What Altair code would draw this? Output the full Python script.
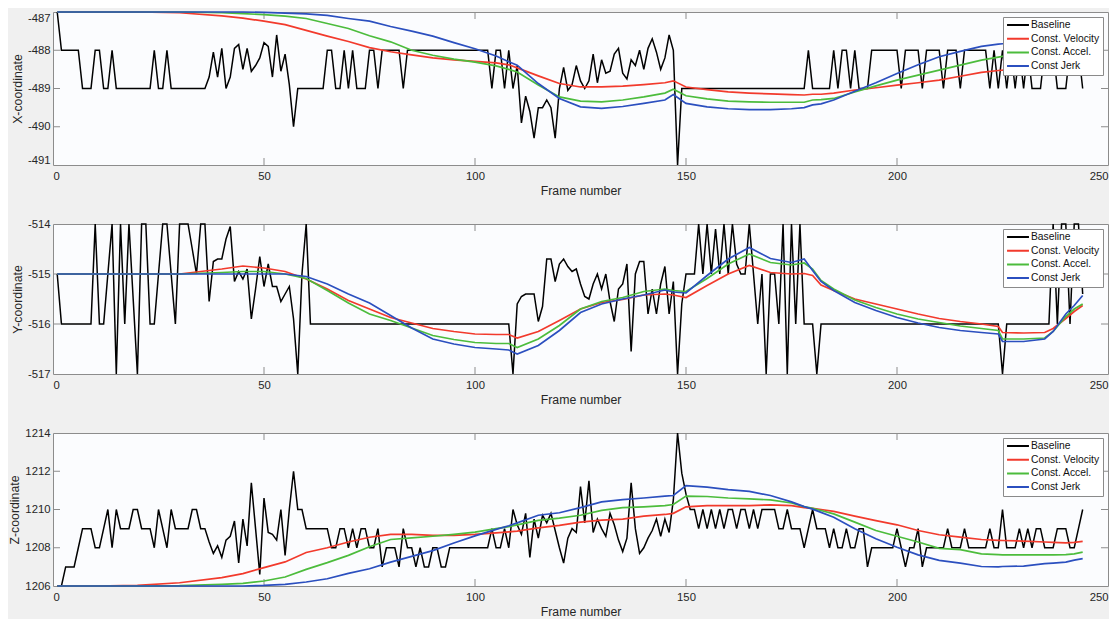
import altair as alt
import pandas as pd

SERIES = ["Baseline", "Const. Velocity", "Const. Accel.", "Const Jerk"]
COLORS = ["#000000", "#f23a2c", "#4cbc3c", "#2b4fbf"]
X_TICKS = [0, 50, 100, 150, 200, 250]
X_INNER_TICKS = [50, 100, 150, 200]

# Baseline, one value per frame (frames 1..244)
X_BASE = [
    -487, -488, -488, -488, -488, -488, -489, -489, -489, -488,
    -488, -489, -489, -488, -489, -489, -489, -489, -489, -489,
    -489, -489, -489, -488, -489, -489, -488, -489, -489, -489,
    -489, -489, -489, -489, -489, -489, -488.7, -488.05, -488.7, -487.95,
    -489, -488.7, -487.95, -487.85, -488.5, -487.95, -488.55, -488.4, -488.2, -487.8,
    -487.9, -488.7, -487.6, -488.55, -488.1, -488.9, -490, -489, -489, -489,
    -489, -489, -489, -489, -488, -488, -489, -489, -488, -489,
    -488, -489, -489, -489, -488, -488, -489, -488, -488, -488,
    -488, -488, -489, -488, -488, -488, -488, -488, -488, -488,
    -488, -488, -488, -488, -488, -488, -488, -488, -488, -488,
    -488, -488, -488, -489, -488, -488, -489, -488, -489, -488.4,
    -489.9, -489.2, -489.6, -490.3, -489.5, -489.5, -489.3, -489.5, -490.3, -489.0,
    -488.45, -489.05, -488.9, -488.4, -488.8, -489.0, -488.8, -488.1, -488.85, -488.25,
    -488.6, -488.55, -488.1, -487.95, -488.6, -488.75, -488.25, -488.4, -488.0, -488.5,
    -487.95, -487.7, -488.05, -488.5, -488.2, -487.6, -488.0, -491, -489, -489,
    -489, -489, -489, -489, -489, -489, -489, -489, -489, -489,
    -489, -489, -489, -489, -489, -489, -489, -489, -489, -489,
    -489, -489, -489, -489, -489, -489, -489, -489, -488, -489,
    -489, -489, -489, -489, -488, -489, -488, -488, -489, -488,
    -489, -489, -489, -488, -488, -488, -488, -488, -488, -488,
    -489, -488, -488, -488, -488, -489, -488, -488, -488, -488,
    -489, -488, -488, -488, -489, -488, -488, -488, -488, -488,
    -488, -489, -488, -489, -488, -489, -488, -489, -488, -489,
    -488, -489, -489, -489, -488, -488, -488, -489, -489, -489,
    -488, -488, -488, -489,
]

Y_BASE = [
    -515, -516, -516, -516, -516, -516, -516, -516, -516, -514,
    -516, -516, -515, -514, -517, -514, -516, -514, -515.5, -517,
    -514, -514, -516, -516, -515, -514, -514, -515, -516, -514,
    -514, -514, -514.5, -515, -514, -514, -515.55, -514.75, -514.7, -514.7,
    -514.3, -514.05, -515.15, -514.95, -515.1, -514.9, -515.9, -515.3, -514.65, -515.25,
    -514.8, -515.25, -515.25, -515.55, -515.4, -515.25, -515.9, -517, -515, -514,
    -516, -516, -516, -516, -516, -516, -516, -516, -516, -516,
    -516, -516, -516, -516, -516, -516, -516, -516, -516, -516,
    -516, -516, -516, -516, -516, -516, -516, -516, -516, -516,
    -516, -516, -516, -516, -516, -516, -516, -516, -516, -516,
    -516, -516, -516, -516, -516, -516, -516, -516, -517, -515.6,
    -515.45, -515.4, -515.4, -515.4, -515.95, -515.65, -514.7, -514.7, -515.15, -514.8,
    -514.7, -514.85, -514.95, -514.9, -515.2, -515.45, -515.5, -515.2, -515.0, -515.3,
    -515.0, -515.55, -515.95, -515.3, -515.2, -514.8, -516.55, -515.0, -514.75, -514.75,
    -515.8, -515.3, -515.8, -515.2, -514.85, -515.8, -515.15, -517, -515.6, -515.0,
    -515.0, -515.0, -514, -515, -514, -515, -514.1, -515, -514, -515,
    -514, -514.8, -515, -515, -514, -515, -516, -515, -517, -515,
    -515, -516, -514, -517, -514, -516, -514, -516, -516, -516,
    -517, -516, -516, -516, -516, -516, -516, -516, -516, -516,
    -516, -516, -516, -516, -516, -516, -516, -516, -516, -516,
    -516, -516, -516, -516, -516, -516, -516, -516, -516, -516,
    -516, -516, -516, -516, -516, -516, -516, -516, -516, -516,
    -516, -516, -516, -516, -517, -516, -516, -516, -516, -516,
    -516, -516, -516, -516, -516, -516, -514, -516, -514, -514,
    -516, -514, -514, -515.4,
]

Z_BASE = [
    1206, 1206, 1207, 1207, 1207, 1208, 1209, 1209, 1209, 1208,
    1208, 1209, 1210, 1208, 1210, 1209, 1209, 1209, 1210, 1210,
    1209, 1209, 1209, 1208, 1210, 1209, 1208, 1210, 1209, 1209,
    1209, 1209, 1210, 1210, 1209, 1209, 1208.3, 1207.7, 1208.1, 1207.5,
    1208.4, 1208.6, 1209.4, 1207.2, 1209.5, 1208.1, 1211.4, 1209.0, 1206.6, 1210.6,
    1208.8, 1208.7, 1208.4, 1210.0, 1207.6, 1210.0, 1212.0, 1210, 1210, 1209,
    1209, 1209, 1209, 1209, 1209, 1208, 1208, 1209, 1209, 1208,
    1209, 1208, 1209, 1209, 1208, 1208, 1209, 1207, 1208, 1208,
    1208, 1207, 1209, 1208, 1208, 1207, 1208, 1207, 1207, 1208,
    1208, 1207, 1207, 1208, 1208, 1208, 1208, 1208, 1208, 1208,
    1208, 1208, 1208, 1209, 1208, 1208, 1209, 1208, 1210, 1209.2,
    1208.7, 1209.8, 1207.5, 1209.5, 1208.5, 1209.7, 1209.3, 1209.8, 1208.9, 1208.0,
    1207.2, 1208.5, 1209.0, 1208.8, 1211.2, 1209.3, 1211.5, 1208.8, 1209.5, 1209.0,
    1208.6, 1209.8, 1209.2, 1208.4, 1207.8, 1208.5, 1211.4, 1209.0, 1207.7, 1208.0,
    1208.5, 1208.9, 1209.5, 1208.6, 1209.5, 1208.8, 1210.5, 1214, 1211.9, 1210.8,
    1210, 1210, 1209, 1210, 1209, 1210, 1209, 1210, 1209, 1210,
    1210, 1209, 1210, 1210, 1209, 1210, 1209, 1210, 1210, 1210,
    1210, 1209, 1209, 1210, 1209, 1209, 1209, 1208, 1209, 1210,
    1209, 1209, 1209, 1208, 1209, 1208, 1208, 1209, 1208, 1208,
    1209, 1209, 1207, 1208, 1208, 1208, 1208, 1208, 1208, 1209,
    1208, 1207, 1208, 1208, 1209, 1207, 1208, 1208, 1208, 1208,
    1208, 1209, 1208, 1208, 1208, 1209, 1208, 1208, 1208, 1208,
    1208, 1209, 1208, 1208, 1210, 1208, 1208, 1208, 1209, 1208,
    1209, 1208, 1209, 1209, 1208, 1208, 1208, 1209, 1209, 1209,
    1208, 1208, 1209, 1210,
]

# Filtered tracks, read at these frames
SAMPLE_FRAMES = [1, 10, 20, 30, 40, 45, 50, 55, 60, 65, 70, 75, 80, 85, 90,
                 95, 100, 105, 108, 110, 115, 120, 125, 130, 135, 140, 145, 147,
                 150, 155, 160, 165, 170, 175, 178, 180, 182, 185, 190, 195, 200,
                 205, 210, 215, 220, 224, 225, 230, 235, 237, 240, 242, 244]

X_CV = [-487.0, -487.0, -487.0, -487.02, -487.1, -487.16, -487.24, -487.33, -487.48, -487.63,
        -487.77, -487.93, -488.04, -488.12, -488.2, -488.25, -488.29, -488.33, -488.38, -488.46,
        -488.67, -488.87, -488.96, -488.96, -488.94, -488.9, -488.85, -488.8, -488.96, -489.03,
        -489.09, -489.12, -489.14, -489.16, -489.17, -489.15, -489.15, -489.12, -489.04, -488.98,
        -488.91, -488.85, -488.78, -488.68, -488.58, -488.53, -488.52, -488.45, -488.38, -488.36,
        -488.33, -488.31, -488.3]
X_CA = [-487.0, -487.0, -487.0, -487.0, -487.02, -487.04, -487.07, -487.11, -487.17, -487.3,
        -487.43, -487.62, -487.78, -488.0, -488.13, -488.23, -488.31, -488.41, -488.5, -488.57,
        -488.91, -489.22, -489.33, -489.35, -489.3, -489.22, -489.12, -489.02, -489.19, -489.27,
        -489.33, -489.35, -489.36, -489.36, -489.36, -489.3, -489.29, -489.26, -489.09, -488.93,
        -488.78, -488.65, -488.52, -488.39, -488.26, -488.18, -488.16, -488.1, -488.06, -488.05,
        -488.03, -488.02, -488.0]
X_CJ = [-487.0, -487.0, -487.0, -487.0, -487.0, -487.0, -487.01, -487.03, -487.05, -487.09,
        -487.17, -487.24, -487.38, -487.5, -487.63, -487.8, -487.96, -488.15, -488.3, -488.39,
        -488.87, -489.26, -489.48, -489.52, -489.47, -489.39, -489.3, -489.16, -489.39, -489.48,
        -489.53, -489.55, -489.55, -489.53, -489.5, -489.43, -489.4, -489.3, -489.07, -488.85,
        -488.61, -488.38, -488.17, -488.03, -487.9, -487.84, -487.83, -487.82, -487.81, -487.8,
        -487.8, -487.8, -487.8]

Y_CV = [-515.0, -515.0, -515.0, -515.0, -514.9, -514.84, -514.88, -514.95, -515.1, -515.3,
        -515.53, -515.7, -515.87, -515.98, -516.09, -516.15, -516.2, -516.21, -516.21, -516.28,
        -516.15, -515.93, -515.7, -515.57, -515.51, -515.42, -515.4, -515.42, -515.47, -515.23,
        -515.0, -514.83, -514.97, -515.0, -514.99, -515.03, -515.22, -515.33, -515.5, -515.6,
        -515.7, -515.8, -515.89, -515.95, -516.0, -516.05, -516.17, -516.18, -516.17, -516.09,
        -515.89, -515.75, -515.63]
Y_CA = [-515.0, -515.0, -515.0, -515.0, -514.97, -514.95, -514.95, -515.0, -515.09, -515.33,
        -515.58, -515.8, -515.93, -516.08, -516.23, -516.31, -516.37, -516.39, -516.39, -516.47,
        -516.3, -516.03, -515.7, -515.55, -515.47, -515.35, -515.3, -515.33, -515.35, -515.09,
        -514.8, -514.6, -514.77, -514.82, -514.78, -514.9, -515.13, -515.3, -515.52, -515.67,
        -515.8, -515.9, -515.97, -516.04, -516.09, -516.13, -516.3, -516.3, -516.28, -516.15,
        -515.85, -515.7, -515.6]
Y_CJ = [-515.0, -515.0, -515.0, -515.0, -515.0, -515.0, -515.0, -515.0, -515.05, -515.2,
        -515.4, -515.58, -515.83, -516.08, -516.3, -516.4, -516.47, -516.5, -516.52, -516.6,
        -516.43, -516.13, -515.77, -515.6, -515.5, -515.42, -515.32, -515.36, -515.38, -515.03,
        -514.7, -514.47, -514.69, -514.77, -514.7, -514.93, -515.15, -515.33, -515.57, -515.73,
        -515.87, -515.98, -516.07, -516.13, -516.17, -516.2, -516.35, -516.35, -516.3, -516.15,
        -515.8, -515.63, -515.43]

Z_CV = [1206.0, 1206.0, 1206.03, 1206.17, 1206.44, 1206.65, 1206.96, 1207.26, 1207.75, 1208.0,
        1208.3, 1208.55, 1208.7, 1208.7, 1208.65, 1208.65, 1208.7, 1208.78, 1208.83, 1208.87,
        1209.04, 1209.17, 1209.34, 1209.44, 1209.5, 1209.65, 1209.74, 1209.8, 1210.14, 1210.2,
        1210.2, 1210.2, 1210.24, 1210.2, 1210.1, 1210.06, 1210.0, 1209.9, 1209.65, 1209.42,
        1209.2, 1208.9, 1208.68, 1208.56, 1208.43, 1208.39, 1208.38, 1208.35, 1208.3, 1208.28,
        1208.26, 1208.28, 1208.33]
Z_CA = [1206.0, 1206.0, 1206.0, 1206.02, 1206.09, 1206.14, 1206.26, 1206.47, 1206.87, 1207.22,
        1207.6, 1208.05, 1208.43, 1208.52, 1208.6, 1208.7, 1208.82, 1209.0, 1209.1, 1209.2,
        1209.43, 1209.55, 1209.7, 1209.95, 1210.1, 1210.14, 1210.2, 1210.26, 1210.7, 1210.68,
        1210.6, 1210.56, 1210.5, 1210.34, 1210.15, 1210.06, 1209.95, 1209.77, 1209.34, 1208.9,
        1208.6, 1208.3, 1207.97, 1207.9, 1207.68, 1207.64, 1207.63, 1207.63, 1207.63, 1207.63,
        1207.64, 1207.68, 1207.77]
Z_CJ = [1206.0, 1206.0, 1206.0, 1206.0, 1206.0, 1206.0, 1206.03, 1206.09, 1206.21, 1206.38,
        1206.66, 1206.9, 1207.25, 1207.55, 1207.85, 1208.25, 1208.62, 1208.96, 1209.15, 1209.3,
        1209.7, 1209.83, 1210.1, 1210.4, 1210.52, 1210.6, 1210.7, 1210.73, 1211.25, 1211.17,
        1211.04, 1210.95, 1210.73, 1210.4, 1210.15, 1210.02, 1209.85, 1209.6, 1208.99, 1208.47,
        1208.03, 1207.63, 1207.34, 1207.2, 1207.02, 1207.0, 1207.02, 1207.04, 1207.17, 1207.2,
        1207.25, 1207.35, 1207.43]

FONT = "Liberation Sans"
W = 1055


def panel(base, cv, ca, cj, y_domain, y_ticks, y_inner, y_title, h, flush_y=False):
    base_df = pd.DataFrame({"frame": list(range(1, len(base) + 1)),
                            "value": base, "series": "Baseline"})
    parts = []
    for name, vals in zip(SERIES[1:], [cv, ca, cj]):
        parts.append(pd.DataFrame({"frame": SAMPLE_FRAMES, "value": vals,
                                   "series": name}))
    smooth_df = pd.concat(parts, ignore_index=True)

    x_enc = alt.X("frame:Q", scale=alt.Scale(domain=[0, 250], nice=False),
                  axis=alt.Axis(values=X_TICKS, title="Frame number", ticks=False,
                                domain=False, grid=False, labelPadding=5,
                                titlePadding=3, labelFlush=True))
    y_enc = alt.Y("value:Q", scale=alt.Scale(domain=y_domain, nice=False, zero=False),
                  axis=alt.Axis(values=y_ticks, title=y_title, ticks=False,
                                domain=False, grid=False, labelPadding=3,
                                titlePadding=3, labelFlush=flush_y,
                                labelExpr="datum.value + ''"))
    color = alt.Color("series:N",
                      scale=alt.Scale(domain=SERIES, range=COLORS),
                      legend=alt.Legend(title=None, orient="top-right", offset=5,
                                        fillColor="white", strokeColor="#8a8a8a",
                                        padding=3, symbolType="stroke",
                                        symbolSize=480, symbolStrokeWidth=2,
                                        clipHeight=10,
                                        labelFont=FONT, labelFontSize=10.3,
                                        labelColor="#111", rowPadding=2.7,
                                        labelOffset=1, labelLimit=200))

    black = alt.Chart(base_df).mark_line(strokeWidth=1.5).encode(
        x=x_enc, y=y_enc, color=color, order="frame:Q")
    smooth = alt.Chart(smooth_df).mark_line(strokeWidth=1.7).encode(
        x=x_enc, y=y_enc, color=color, order="frame:Q")

    xt = pd.DataFrame({"frame": X_INNER_TICKS})
    yt = pd.DataFrame({"value": y_inner})
    tick_col = "#8c8c8c"
    top_ticks = alt.Chart(xt).mark_rule(color=tick_col).encode(
        x=x_enc, y=alt.value(0), y2=alt.value(7))
    bot_ticks = alt.Chart(xt).mark_rule(color=tick_col).encode(
        x=x_enc, y=alt.value(h - 7), y2=alt.value(h))
    left_ticks = alt.Chart(yt).mark_rule(color=tick_col).encode(
        y=y_enc, x=alt.value(0), x2=alt.value(7))
    right_ticks = alt.Chart(yt).mark_rule(color=tick_col).encode(
        y=y_enc, x=alt.value(W - 7), x2=alt.value(W))

    return alt.layer(top_ticks, bot_ticks, left_ticks, right_ticks, black, smooth).properties(
        width=W, height=h)


p1 = panel(X_BASE, X_CV, X_CA, X_CJ, [-491, -487], [-491, -490, -489, -488, -487],
           [-490, -489, -488], "X-coordinate", 153, flush_y=True)
p2 = panel(Y_BASE, Y_CV, Y_CA, Y_CJ, [-517, -514], [-517, -516, -515, -514],
           [-516, -515], "Y-coordinate", 150)
p3 = panel(Z_BASE, Z_CV, Z_CA, Z_CJ, [1206, 1214], [1206, 1208, 1210, 1212, 1214],
           [1208, 1210, 1212], "Z-coordinate", 153)

chart = alt.vconcat(p1, p2, p3, spacing=19).resolve_scale(
    color="independent").resolve_legend(color="independent").properties(
    background="#f0f0f0",
    padding={"left": 0, "top": 0, "right": 0, "bottom": 0},
).configure_view(
    stroke="#8c8c8c", strokeWidth=1, fill="#fbfcfe"
).configure_axis(
    labelFont=FONT, labelFontSize=11.3, labelColor="#262626",
    titleFont=FONT, titleFontSize=12.3, titleFontWeight="normal", titleColor="#262626",
)

chart.save("out.html", embed_options={"renderer": "svg", "actions": False})
